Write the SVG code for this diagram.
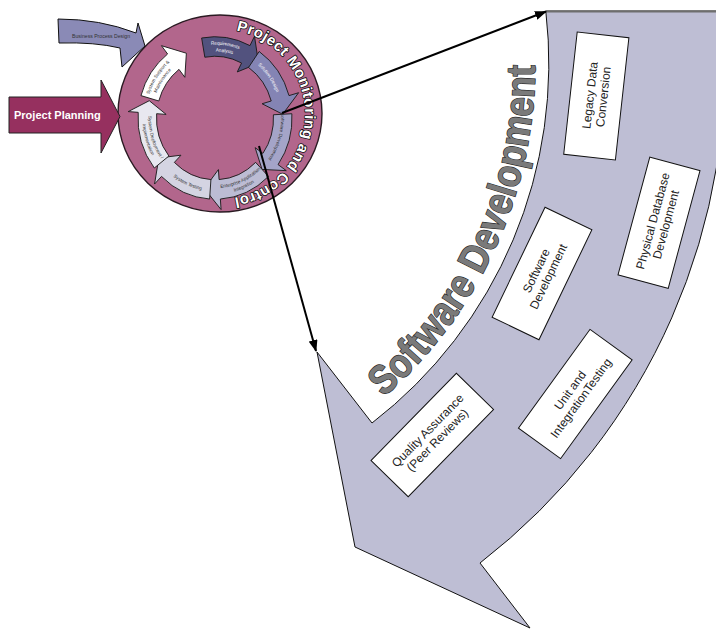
<svg xmlns="http://www.w3.org/2000/svg" width="716" height="630" viewBox="0 0 716 630">
<style>
text{font-family:"Liberation Sans",Arial,sans-serif}
.ra{stroke:#1a1a1a;stroke-width:0.9;stroke-linejoin:miter}
.t5{font-size:4.6px;text-anchor:middle}
.w{fill:#ffffff}
.d{fill:#333333}
.box rect{fill:#ffffff;stroke:#111;stroke-width:1}
.box text{font-size:12px;fill:#222;text-anchor:middle}
.conn{stroke:#000;stroke-width:2;fill:none}
</style>
<defs>
<marker id="ah" markerUnits="userSpaceOnUse" markerWidth="12" markerHeight="9" refX="11" refY="4.5" orient="auto">
<path d="M0,0 L12,4.5 L0,9 Z" fill="#000"/>
</marker>
<path id="cw69" d="M-34.75,-60.19 A69.5,69.5 0 0 1 34.75,-60.19"/>
<path id="cw66" d="M-33,-57.16 A66,66 0 0 1 33,-57.16"/>
<path id="cw63" d="M-31.5,-54.56 A63,63 0 0 1 31.5,-54.56"/>
<path id="ccw69" d="M34.75,-60.19 A69.5,69.5 0 0 0 -34.75,-60.19"/>
<path id="ccw66" d="M33.25,-57.59 A66.5,66.5 0 0 0 -33.25,-57.59"/>
<path id="ccw72" d="M36.25,-62.79 A72.5,72.5 0 0 0 -36.25,-62.79"/>
<path id="pmc" d="M231.83,29.83 A85,85 0 0 1 222.97,198.95"/>
<path id="sdp" d="M383.7,397.1 A440,440 0 0 0 535,62.7"/>
</defs>

<g id="software-development-arrow">
<path d="M545.8,11 L722.7,11 A630,630 0 0 1 480,563 L530,628 L355,547 L317,352 L372,423 A454,454 0 0 0 545.8,11 Z" fill="#bebed4" stroke="#111" stroke-width="1"/>
<line x1="545.8" y1="11.5" x2="716" y2="11.5" stroke="#6e6e6e" stroke-width="2"/>
<text font-size="41" font-weight="bold" fill="#7a7a7a" stroke="#2a2a2a" stroke-width="1.4" paint-order="stroke fill"><textPath href="#sdp" textLength="376" lengthAdjust="spacingAndGlyphs">Software Development</textPath></text>
</g>

<g id="box-legacy" class="box" transform="translate(596.3,96) rotate(-83.7)">
<rect x="-61.5" y="-26" width="123" height="52"/>
<text y="-2.3">Legacy Data</text><text y="11.2">Conversion</text>
</g>
<g id="box-physical-db" class="box" transform="translate(659,222.7) rotate(-74.9)">
<rect x="-61" y="-26" width="122" height="52"/>
<text y="-2.3">Physical Database</text><text y="11.2">Development</text>
</g>
<g id="box-software-dev" class="box" transform="translate(542,273.5) rotate(-64.3)">
<rect x="-61" y="-26" width="122" height="52"/>
<text y="-2.3">Software</text><text y="11.2">Development</text>
</g>
<g id="box-unit-testing" class="box" transform="translate(575.3,394) rotate(-54.1)">
<rect x="-61" y="-26" width="122" height="52"/>
<text y="-2.3">Unit and</text><text y="11.2">IntegrationTesting</text>
</g>
<g id="box-qa" class="box" transform="translate(432.3,435) rotate(-45.6)">
<rect x="-61" y="-26" width="122" height="52"/>
<text y="-2.3">Quality Assurance</text><text y="11.2">(Peer Reviews)</text>
</g>

<g id="monitoring-circle">
<ellipse cx="220" cy="113.5" rx="102" ry="98.5" fill="#b2668c" stroke="#2a1a22" stroke-width="1.4"/>
<text font-size="15" font-weight="bold" fill="#ffffff" stroke="#111" stroke-width="1.6" paint-order="stroke fill" stroke-linejoin="round"><textPath href="#pmc" startOffset="4.5" textLength="236" lengthAdjust="spacing">Project Monitoring and Control</textPath></text>
<g transform="translate(215,118) scale(1,1.055)">
<g id="ring-requirements">
<path class="ra" fill="#52527e" d="M-13.37,-75.83 A77,77 0 0 1 34.96,-68.61 L39.50,-77.52 L43.55,-51.90 L22.25,-43.66 L26.56,-52.12 A58.5,58.5 0 0 0 -10.16,-57.61 Z"/>
<g transform="rotate(8.5)"><text class="t5 w"><textPath href="#cw69" startOffset="50%">Requirements</textPath></text><text class="t5 w"><textPath href="#cw63" startOffset="50%">Analysis</textPath></text></g>
</g>
<g id="ring-solution-design">
<path class="ra" fill="#8484b4" d="M44.17,-63.07 A77,77 0 0 1 74.02,-21.22 L83.63,-23.98 L67.66,-3.55 L47.10,-13.51 L56.23,-16.12 A58.5,58.5 0 0 0 33.55,-47.92 Z"/>
<g transform="rotate(54.5)"><text class="t5 w"><textPath href="#cw66" startOffset="50%">Solution Design</textPath></text></g>
</g>
<g id="ring-software-development">
<path class="ra" fill="#a4a4c8" d="M76.89,-4.03 A77,77 0 0 1 63.07,44.17 L71.27,49.90 L47.06,48.73 L40.14,28.11 L47.92,33.55 A58.5,58.5 0 0 0 58.42,-3.06 Z"/>
<g transform="rotate(106)"><text class="t5 d"><textPath href="#cw66" startOffset="50%">Software Development</textPath></text></g>
</g>
<g id="ring-eai">
<path class="ra" fill="#bcbcd4" d="M53.49,55.39 A77,77 0 0 1 5.37,76.81 L6.07,86.79 L-10.60,66.92 L3.42,48.88 L4.08,58.36 A58.5,58.5 0 0 0 40.64,42.08 Z"/>
<g transform="rotate(156)"><text class="t5 d"><textPath href="#ccw66" startOffset="50%">Enterprise Application</textPath></text><text class="t5 d"><textPath href="#ccw72" startOffset="50%">Integration</textPath></text></g>
</g>
<g id="ring-system-testing">
<path class="ra" fill="#d4d4e2" d="M-5.37,76.81 A77,77 0 0 1 -53.49,55.39 L-60.44,62.58 L-56.17,37.89 L-34.04,35.25 L-40.64,42.08 A58.5,58.5 0 0 0 -4.08,58.36 Z"/>
<g transform="rotate(204)"><text class="t5 d"><textPath href="#ccw69" startOffset="50%">System Testing</textPath></text></g>
</g>
<g id="ring-deployment">
<path class="ra" fill="#e8e8f0" d="M-60.68,47.41 A77,77 0 0 1 -76.81,-5.37 L-86.79,-6.07 L-65.74,-16.39 L-48.88,-3.42 L-58.36,-4.08 A58.5,58.5 0 0 0 -46.10,36.02 Z"/>
<g transform="rotate(253)"><text class="t5 d"><textPath href="#ccw66" startOffset="50%">System Deployment /</textPath></text><text class="t5 d"><textPath href="#ccw72" startOffset="50%">Implementation</textPath></text></g>
</g>
<g id="ring-support">
<path class="ra" fill="#ffffff" d="M-74.02,-21.22 A77,77 0 0 1 -47.41,-60.68 L-53.56,-68.56 L-28.63,-61.40 L-30.17,-38.61 L-36.02,-46.10 A58.5,58.5 0 0 0 -56.23,-16.12 Z"/>
<g transform="rotate(304)"><text class="t5 d"><textPath href="#cw69" startOffset="50%">System Support &amp;</textPath></text><text class="t5 d"><textPath href="#cw63" startOffset="50%">Maintenance</textPath></text></g>
</g>
</g>
</g>

<g id="business-process-design">
<path d="M58,19 Q100,19 136,33 L138,23 L145,46 L122,67 L120,48 Q95,42 59,43 Z" fill="#8a8ab6" stroke="#111" stroke-width="1"/>
<text x="101" y="38" font-size="5.5" fill="#333" text-anchor="middle" textLength="58" lengthAdjust="spacingAndGlyphs">Business Process Design</text>
</g>

<g id="project-planning">
<path d="M9,97 L101,97 L101,80 L120,116.5 L101,153 L101,133 L9,133 Z" fill="#96305f" stroke="#222" stroke-width="1"/>
<text x="14" y="119" font-size="11" font-weight="bold" fill="#ffffff">Project Planning</text>
</g>

<g id="connectors">
<line class="conn" x1="282" y1="113" x2="546" y2="11.5" marker-end="url(#ah)"/>
<line class="conn" x1="259" y1="146" x2="316" y2="351" marker-end="url(#ah)"/>
</g>
</svg>
